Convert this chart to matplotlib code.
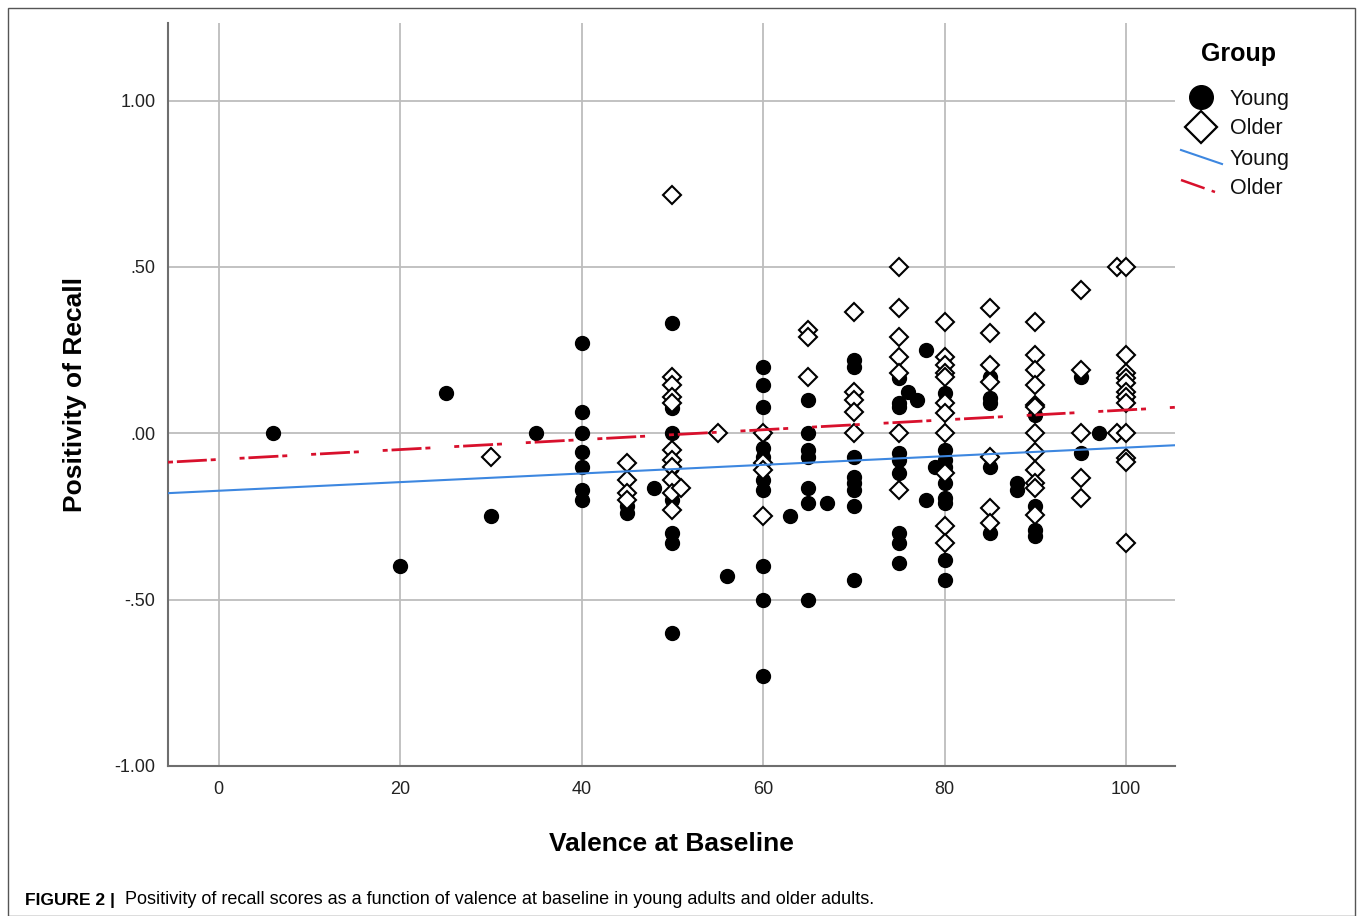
import matplotlib.pyplot as plt
from matplotlib.lines import Line2D
from matplotlib.patches import Rectangle

plt.rcParams['font.family'] = ['Liberation Sans', 'DejaVu Sans']

# Young group (filled circles): valence at baseline, positivity of recall
young_x = [6, 20, 25, 30, 35,
           40, 40, 40, 40, 40, 40, 40,
           45, 45, 48,
           50, 50, 50, 50, 50, 50, 50, 50,
           56,
           60, 60, 60, 60, 60, 60, 60, 60, 60, 60, 60,
           63,
           65, 65, 65, 65, 65, 65, 65,
           67,
           70, 70, 70, 70, 70, 70, 70, 70,
           75, 75, 75, 75, 75, 75, 75, 75, 75,
           76, 77, 78, 78, 79,
           80, 80, 80, 80, 80, 80, 80, 80, 80,
           85, 85, 85, 85, 85,
           88, 88,
           90, 90, 90, 90,
           95, 95, 97, 100, 100]
young_y = [0.0, -0.40, 0.12, -0.25, 0.0,
           0.27, 0.063, 0.0, -0.057, -0.10, -0.17, -0.20,
           -0.22, -0.24, -0.165,
           0.33, 0.075, 0.0, -0.10, -0.20, -0.30, -0.33, -0.60,
           -0.43,
           0.20, 0.145, 0.08, 0.0, -0.045, -0.07, -0.14, -0.17, -0.40, -0.50, -0.73,
           -0.25,
           0.10, 0.0, -0.05, -0.07, -0.165, -0.21, -0.50,
           -0.21,
           0.22, 0.20, -0.07, -0.13, -0.15, -0.17, -0.22, -0.44,
           0.165, 0.09, 0.08, -0.06, -0.08, -0.12, -0.30, -0.33, -0.39,
           0.125, 0.10, 0.25, -0.20, -0.10,
           0.12, -0.05, -0.08, -0.10, -0.15, -0.195, -0.21, -0.38, -0.44,
           0.17, 0.105, 0.09, -0.10, -0.30,
           -0.15, -0.17,
           0.055, -0.22, -0.29, -0.31,
           0.17, -0.06, 0.0, 0.175, 0.10]

# Older group (open diamonds)
older_x = [30,
           45, 45, 45, 45,
           50, 50, 50, 50, 50, 50, 50, 50, 50, 50, 50,
           51, 55,
           60, 60, 60, 60,
           65, 65, 65,
           70, 70, 70, 70, 70,
           75, 75, 75, 75, 75, 75, 75,
           80, 80, 80, 80, 80, 80, 80, 80, 80, 80, 80,
           85, 85, 85, 85, 85, 85, 85,
           90, 90, 90, 90, 90, 90, 90, 90, 90, 90, 90, 90,
           95, 95, 95, 95, 95,
           99, 99,
           100, 100, 100, 100, 100, 100, 100, 100, 100, 100, 100, 100]
older_y = [-0.07,
           -0.09, -0.14, -0.18, -0.20,
           0.716, 0.17, 0.145, 0.11, 0.09, -0.05, -0.08, -0.10, -0.14, -0.18, -0.23,
           -0.165, 0.0,
           0.0, -0.09, -0.11, -0.25,
           0.31, 0.29, 0.17,
           0.365, 0.125, 0.10, 0.065, 0.0,
           0.50, 0.375, 0.29, 0.23, 0.18, 0.0, -0.17,
           0.335, 0.23, 0.205, 0.18, 0.17, 0.09, 0.06, 0.0, -0.12, -0.28, -0.33,
           0.375, 0.30, 0.205, 0.155, -0.07, -0.225, -0.27,
           0.335, 0.235, 0.19, 0.145, 0.085, 0.08, 0.0, -0.055, -0.11, -0.15, -0.165, -0.245,
           0.43, 0.19, 0.0, -0.135, -0.195,
           0.50, 0.0,
           0.50, 0.235, 0.18, 0.165, 0.15, 0.125, 0.11, 0.09, 0.0, -0.075, -0.085, -0.33]

# fit lines (end points)
fit_x = [-5.6, 105.4]
young_fit = [-0.180, -0.036]
older_fit = [-0.087, 0.078]

x_ticks = [0, 20, 40, 60, 80, 100]
y_ticks = [-1.0, -0.5, 0.0, 0.5, 1.0]
y_labels = ['-1.00', '-.50', '.00', '.50', '1.00']

W, H = 1357, 916
fig = plt.figure(figsize=(W / 100, H / 100), dpi=100)
ax = fig.add_axes([168 / W, 1 - 766 / H, (1175 - 168) / W, (766 - 23) / H])

blue = '#3d87e0'
red = '#d8102c'
# dot, dash, dot, long gap (in line widths)
older_dash = (1.8, 1.4, 10.8, 1.4, 1.8, 8.6)

ax.plot(young_x, young_y, 'o', ms=10, color='black', zorder=3)
ax.plot(older_x, older_y, 'D', ms=8.8, mfc='white', mec='black', mew=1.5, zorder=3)
ax.plot(fit_x, young_fit, color=blue, lw=1.5, zorder=4)
ax.plot(fit_x, older_fit, color=red, lw=2, zorder=4, dashes=older_dash, dash_capstyle='butt')

ax.set_xlim(-5.6, 105.4)
ax.set_ylim(-1.0, 1.233)
ax.set_xticks(x_ticks)
ax.set_yticks(y_ticks)
ax.set_yticklabels(y_labels)
ax.grid(True, color='#bdbdbd', lw=1.3)
ax.set_axisbelow(True)
ax.tick_params(length=0, labelsize=13, colors='#222222')
ax.tick_params(axis='x', pad=11)
ax.tick_params(axis='y', pad=9)
for s in ['top', 'right']:
    ax.spines[s].set_visible(False)
for s in ['left', 'bottom']:
    ax.spines[s].set_color('#6e6e6e')
    ax.spines[s].set_linewidth(1.5)

ax.set_xlabel('Valence at Baseline', fontsize=19, fontweight='bold', labelpad=24)
ax.set_ylabel('Positivity of Recall', fontsize=19, fontweight='bold', labelpad=20)

# legend, drawn by hand (SPSS style diagonal line keys)
def fx(px):
    return px / W

def fy(py):
    return 1 - py / H

fig.text(fx(1238), fy(54), 'Group', fontsize=18, fontweight='bold', ha='center', va='center')
fig.add_artist(Line2D([fx(1201)], [fy(97)], marker='o', ms=17, color='black', ls='none'))
fig.add_artist(Line2D([fx(1201)], [fy(127)], marker='D', ms=16, mfc='white', mec='black', mew=1.6, ls='none'))
fig.add_artist(Line2D([fx(1181), fx(1222)], [fy(150), fy(164)], color=blue, lw=1.5))
fig.add_artist(Line2D([fx(1181), fx(1215)], [fy(180), fy(192)], color=red, lw=1.8, dashes=(10, 3, 1.5, 3)))
for py, lab in [(99, 'Young'), (128, 'Older'), (159, 'Young'), (189, 'Older')]:
    fig.text(fx(1230), fy(py), lab, fontsize=15.5, ha='left', va='center', color='#111111')

# outer frame and caption
fig.add_artist(Rectangle((fx(8), 0), fx(1355) - fx(8), fy(8), transform=fig.transFigure,
                         fill=False, edgecolor='#555555', lw=1))
fig.text(fx(25), fy(900), 'FIGURE 2 |', fontsize=12.5, fontweight='bold', ha='left', va='center',
         family=['Liberation Sans Narrow', 'Liberation Sans'])
fig.text(fx(125), fy(900), 'Positivity of recall scores as a function of valence at baseline in young adults and older adults.',
         fontsize=13, ha='left', va='center', family=['Liberation Sans Narrow', 'Liberation Sans'])

fig.savefig('out.png', dpi=100)
